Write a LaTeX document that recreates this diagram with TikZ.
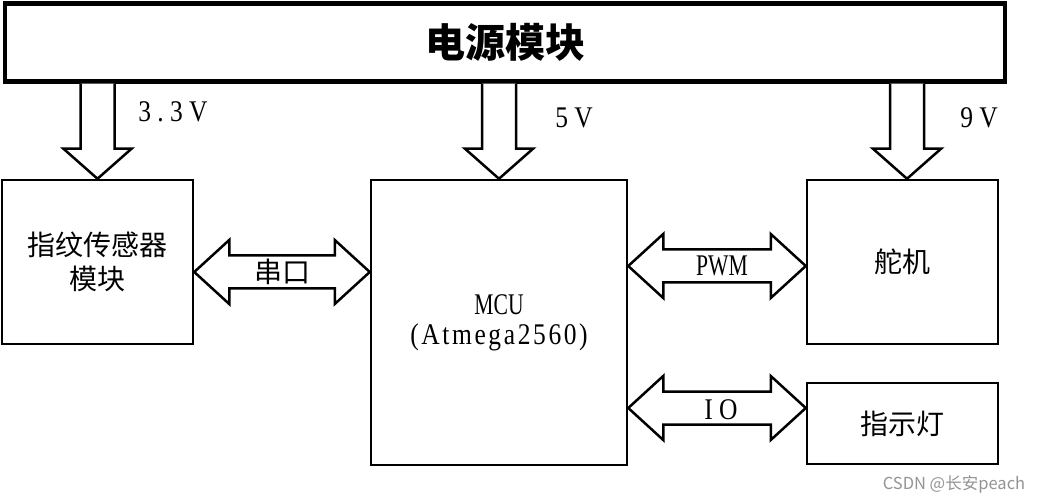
\documentclass[tikz,border=0pt]{standalone}
\usepackage{fontspec}
\setmainfont{Liberation Serif}
\newfontfamily\cjk{Noto Sans CJK SC}
\newfontfamily\latn[FakeStretch=0.85]{Liberation Serif}
\newfontfamily\latc[FakeStretch=0.72]{Liberation Serif}
\usetikzlibrary{calc}
\tikzset{
  box/.style={draw, line width=2.5pt, inner sep=0pt, align=center},
  blk/.style={draw, line width=2.5pt, line join=miter, fill=white},
  zh/.style={font=\cjk\fontsize{28}{36}\selectfont},
  lat/.style={font=\latn\fontsize{30}{32}\selectfont\addfontfeature{LetterSpace=21}, inner sep=0pt},
  latp/.style={font=\latc\fontsize{30}{32}\selectfont, inner sep=0pt},
}
\newcommand\blkdown[1]{%
  \draw[blk] ($(#1 |- top.south)+(-17,0)$) -- ($(#1)+(-17,-30)$) -- ($(#1)+(-34,-30)$) -- (#1)
    -- ($(#1)+(34,-30)$) -- ($(#1)+(17,-30)$) -- ($(#1 |- top.south)+(17,0)$);}
\newcommand\blkdbl[2]{%
  \draw[blk] (#1) -- ($(#1)+(35,-32)$) -- ($(#1)+(35,-16.5)$) -- ($(#2)+(-35,-16.5)$)
    -- ($(#2)+(-35,-32)$) -- (#2) -- ($(#2)+(-35,32)$) -- ($(#2)+(-35,16.5)$)
    -- ($(#1)+(35,16.5)$) -- ($(#1)+(35,32)$) -- cycle;}
\begin{document}
\begin{tikzpicture}[x=1pt,y=-1pt]
\useasboundingbox[fill=white] (0,0) rectangle (1038,502);
% boxes
\node[box, line width=4.5pt, minimum width=1000pt, minimum height=78pt, font=\cjk\bfseries\fontsize{40}{44}\selectfont] (top) at (505,42.5) {电源模块};
\node[box, minimum width=191pt, minimum height=164pt, zh] (fp) at (97.5,262) {指纹传感器\\[-2pt]模块};
\node[box, minimum width=256pt, minimum height=285pt, font=\fontsize{30}{30}\selectfont] (mcu) at (499,322.5) {{\latc MCU}\\{\latn\addfontfeature{LetterSpace=8.7}(Atmega2560)}};
\node[box, minimum width=191pt, minimum height=164pt, zh] (servo) at (902.5,262) {舵机};
\node[box, minimum width=191pt, minimum height=81pt, zh] (led) at (902.5,423.5) {指示灯};
% power arrows
\coordinate (t9) at ($(servo.north)+(4.5,0)$);
\blkdown{fp.north}
\blkdown{mcu.north}
\blkdown{t9}
\node[lat] (v33) at (173,112) {3.3V};
\node[lat] (v5) at (574,118) {5V};
\node[lat] (v9) at (979,118) {9V};
% data arrows
\coordinate (ys) at (0,272);
\coordinate (yp) at (0,266);
\coordinate (yi) at (0,408);
\blkdbl{fp.east |- ys}{mcu.west |- ys}
\blkdbl{mcu.east |- yp}{servo.west |- yp}
\blkdbl{mcu.east |- yi}{led.west |- yi}
\node[zh, inner sep=0pt] (lser) at ($(fp.east |- ys)!0.5!(mcu.west |- ys)$) {串口};
\node[latp] (lpwm) at ($(mcu.east |- yp)!0.5!(servo.west |- yp)+(5,0)$) {PWM};
\node[lat] (lio) at ($(mcu.east |- yi)!0.5!(led.west |- yi)+(4,2)$) {IO};
% watermark
\node[font=\cjk\fontsize{16.5}{18}\selectfont, text=black!42, inner sep=0pt] (wm) at (954,484) {CSDN @长安peach};
\end{tikzpicture}
\end{document}
